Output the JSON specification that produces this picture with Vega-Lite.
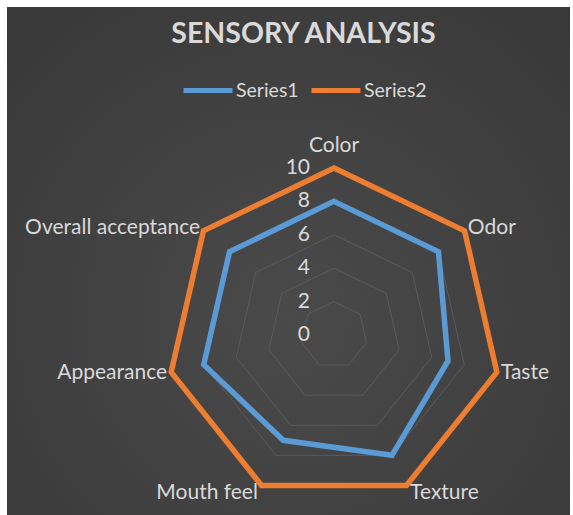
{
  "$schema": "https://vega.github.io/schema/vega-lite/v6.json",
  "autosize": {"type": "none"},
  "width": 563,
  "height": 508,
  "padding": {"left": 7, "top": 7, "right": 3, "bottom": 0},
  "background": "white",
  "config": {
    "view": {"stroke": null, "fill": {"gradient": "radial", "x1": 0.5, "y1": 0.6, "x2": 0.5, "y2": 0.6, "r1": 0, "r2": 0.75, "stops": [{"offset": 0, "color": "#4a4a4a"}, {"offset": 1, "color": "#383838"}]}},
    "text": {"font": "Lato"}
  },
  "title": {
    "text": "SENSORY ANALYSIS",
    "font": "Lato",
    "fontSize": 28.5,
    "fontWeight": "bold",
    "color": "#d9d9d9",
    "anchor": "middle",
    "dx": 15,
    "dy": 29,
    "baseline": "alphabetic",
    "offset": -35
  },
  "datasets": {
    "scores": [
      {"attribute": "Color", "series": "Series1", "value": 8},
      {"attribute": "Odor", "series": "Series1", "value": 8},
      {"attribute": "Taste", "series": "Series1", "value": 7},
      {"attribute": "Texture", "series": "Series1", "value": 8},
      {"attribute": "Mouth feel", "series": "Series1", "value": 7},
      {"attribute": "Appearance", "series": "Series1", "value": 8},
      {"attribute": "Overall acceptance", "series": "Series1", "value": 8},
      {"attribute": "Color", "series": "Series2", "value": 10},
      {"attribute": "Odor", "series": "Series2", "value": 10},
      {"attribute": "Taste", "series": "Series2", "value": 10},
      {"attribute": "Texture", "series": "Series2", "value": 10},
      {"attribute": "Mouth feel", "series": "Series2", "value": 10},
      {"attribute": "Appearance", "series": "Series2", "value": 10},
      {"attribute": "Overall acceptance", "series": "Series2", "value": 10}
    ],
    "axes": [
      {"attribute": "Color", "level": [0, 2, 4, 6, 8, 10]},
      {"attribute": "Odor", "level": [0, 2, 4, 6, 8, 10]},
      {"attribute": "Taste", "level": [0, 2, 4, 6, 8, 10]},
      {"attribute": "Texture", "level": [0, 2, 4, 6, 8, 10]},
      {"attribute": "Mouth feel", "level": [0, 2, 4, 6, 8, 10]},
      {"attribute": "Appearance", "level": [0, 2, 4, 6, 8, 10]},
      {"attribute": "Overall acceptance", "level": [0, 2, 4, 6, 8, 10]}
    ]
  },
  "layer": [
    {
      "data": {"name": "axes"},
      "transform": [
        {"flatten": ["level"]},
        {"window": [{"op": "row_number", "as": "rn"}], "groupby": ["level"]},
        {"filter": "datum.level > 0"},
        {"calculate": "(datum.rn - 1) * 2 * PI / 7", "as": "ang"},
        {"calculate": "datum.level * sin(datum.ang)", "as": "x"},
        {"calculate": "datum.level * cos(datum.ang)", "as": "y"}
      ],
      "mark": {"type": "line", "interpolate": "linear-closed", "stroke": "#5a5a5a", "strokeWidth": 1},
      "encoding": {
        "x": {"field": "x", "type": "quantitative", "scale": {"domain": [-19.58, 14.13], "nice": false, "zero": false}, "axis": null},
        "y": {"field": "y", "type": "quantitative", "scale": {"domain": [-10.78, 19.64], "nice": false, "zero": false}, "axis": null},
        "detail": {"field": "level", "type": "nominal"},
        "order": {"field": "rn", "type": "quantitative"}
      }
    },
    {
      "data": {"name": "axes"},
      "transform": [
        {"flatten": ["level"]},
        {"filter": "datum.attribute == 'Color'"}
      ],
      "mark": {"type": "text", "align": "right", "baseline": "middle", "dx": -24, "fontSize": 21, "color": "#d9d9d9"},
      "encoding": {
        "x": {"datum": 0, "type": "quantitative"},
        "y": {"field": "level", "type": "quantitative"},
        "text": {"field": "level", "type": "quantitative"}
      }
    },
    {
      "data": {"name": "scores"},
      "transform": [
        {"window": [{"op": "row_number", "as": "rn"}], "groupby": ["series"]},
        {"calculate": "(datum.rn - 1) * 2 * PI / 7", "as": "ang"},
        {"calculate": "datum.value * sin(datum.ang)", "as": "x"},
        {"calculate": "datum.value * cos(datum.ang)", "as": "y"}
      ],
      "mark": {"type": "line", "interpolate": "linear-closed", "strokeWidth": 5.5},
      "encoding": {
        "x": {"field": "x", "type": "quantitative"},
        "y": {"field": "y", "type": "quantitative"},
        "color": {
          "field": "series",
          "type": "nominal",
          "scale": {"domain": ["Series1", "Series2"], "range": ["#5B9BD5", "#ED7D31"]},
          "legend": {
            "title": null,
            "orient": "none",
            "legendX": 174,
            "legendY": 56.5,
            "direction": "horizontal",
            "symbolType": "stroke",
            "symbolSize": 2400,
            "symbolStrokeWidth": 5,
            "labelFont": "Lato",
            "labelFontSize": 19.5,
            "labelColor": "#d9d9d9",
            "labelOffset": 1,
            "columnPadding": 2,
            "padding": 0
          }
        },
        "detail": {"field": "series", "type": "nominal"},
        "order": {"field": "rn", "type": "quantitative"}
      }
    },
    {
      "data": {"name": "axes"},
      "transform": [
        {"window": [{"op": "row_number", "as": "rn"}]},
        {"calculate": "(datum.rn - 1) * 2 * PI / 7", "as": "ang"},
        {"calculate": "datum.rn == 1 ? 11.3 : (abs(sin(datum.ang)) > 0.7 ? 10.25 : 10.5)", "as": "lr"},
        {"calculate": "datum.lr * sin(datum.ang)", "as": "x"},
        {"calculate": "datum.lr * cos(datum.ang)", "as": "y"}
      ],
      "mark": {
        "type": "text",
        "fontSize": 21,
        "color": "#d9d9d9",
        "baseline": "middle",
        "align": {"expr": "datum.x > 0.5 ? 'left' : (datum.x < -0.5 ? 'right' : 'center')"}
      },
      "encoding": {
        "x": {"field": "x", "type": "quantitative"},
        "y": {"field": "y", "type": "quantitative"},
        "text": {"field": "attribute", "type": "nominal"}
      }
    }
  ]
}
